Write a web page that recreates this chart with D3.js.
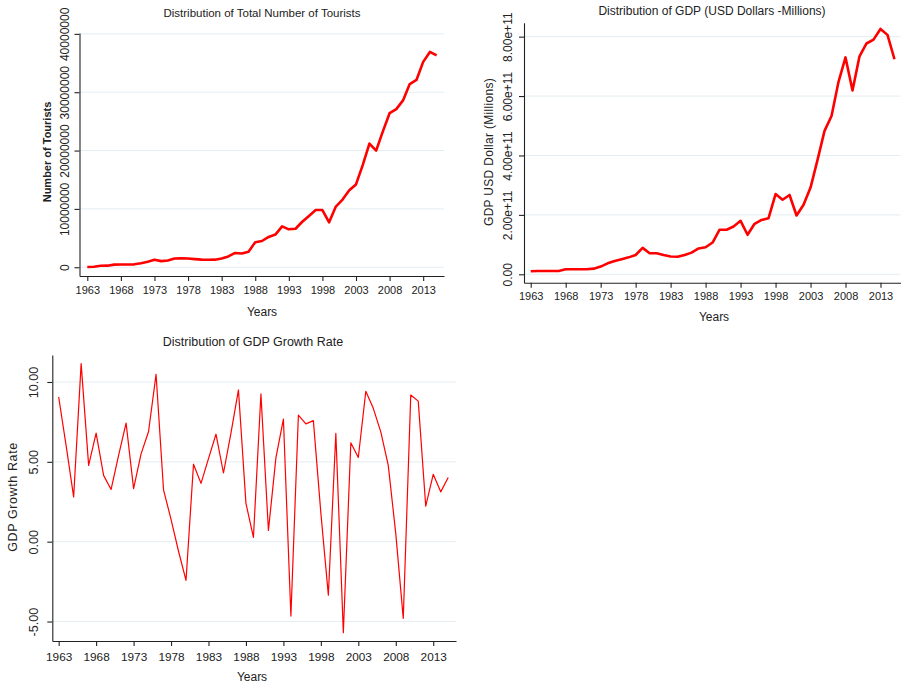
<!DOCTYPE html>
<html>
<head>
<meta charset="utf-8">
<script src="https://cdn.jsdelivr.net/npm/d3@7"></script>
<style>
  html, body { margin: 0; padding: 0; background: #fff; }
  svg { display: block; font-family: "Liberation Sans", Arial, sans-serif; }
  .grid line { stroke: #e4edf1; stroke-width: 1; }
  .axis path, .axis line { stroke: #222; stroke-width: 1.1; }
  .axis text { fill: #222; }
</style>
</head>
<body>
<svg id="chart" width="902" height="685"></svg>
<script>
// Years covered by every series
const years = d3.range(1963, 2016);
const xTickYears = [1963, 1968, 1973, 1978, 1983, 1988, 1993, 1998, 2003, 2008, 2013];

// Total number of tourists per year
const tourists = [
  50000, 80000, 250000, 270000, 450000, 470000, 480000, 500000, 700000, 950000,
  1300000, 1050000, 1150000, 1500000, 1520000, 1500000, 1400000, 1300000, 1280000, 1300000,
  1500000, 1850000, 2450000, 2350000, 2650000, 4300000, 4500000, 5200000, 5600000, 7000000,
  6500000, 6600000, 7800000, 8800000, 9800000, 9800000, 7700000, 10400000, 11600000, 13200000,
  14200000, 17500000, 21200000, 20000000, 23300000, 26400000, 27100000, 28600000, 31400000, 32100000,
  35200000, 36900000, 36300000
];
const touristTicks = [0, 10000000, 20000000, 30000000, 40000000];

// GDP in current US dollars
const gdp = [
  1.0e10, 1.1e10, 1.1e10, 1.1e10, 1.1e10, 1.7e10, 1.7e10, 1.7e10, 1.7e10, 1.9e10,
  2.6e10, 3.7e10, 4.5e10, 5.1e10, 5.7e10, 6.5e10, 8.9e10, 7.1e10, 7.1e10, 6.5e10,
  6.0e10, 5.9e10, 6.5e10, 7.3e10, 8.7e10, 9.1e10, 1.07e11, 1.50e11, 1.50e11, 1.61e11,
  1.80e11, 1.33e11, 1.70e11, 1.83e11, 1.89e11, 2.70e11, 2.51e11, 2.67e11, 1.98e11, 2.34e11,
  2.92e11, 3.85e11, 4.83e11, 5.33e11, 6.48e11, 7.30e11, 6.19e11, 7.34e11, 7.77e11, 7.90e11,
  8.26e11, 8.06e11, 7.24e11
];
const gdpTicks = [0, 2e11, 4e11, 6e11, 8e11];

// Annual GDP growth rate (%)
const growth = [
  9.06, 6.0, 2.8, 11.15, 4.78, 6.8, 4.15, 3.27, 5.4, 7.43,
  3.32, 5.5, 6.9, 10.48, 3.25, 1.4, -0.6, -2.42, 4.85, 3.65,
  5.2, 6.73, 4.3, 6.8, 9.5, 2.4, 0.27, 9.25, 0.7, 5.25,
  7.68, -4.66, 7.92, 7.38, 7.58, 1.8, -3.35, 6.78, -5.7, 6.19,
  5.27, 9.42, 8.35, 6.88, 4.78, 0.5, -4.8, 9.18, 8.8, 2.22,
  4.22, 3.12, 4.02
];
const growthTicks = [-5, 0, 5, 10];

const svg = d3.select("#chart");

function drawPanel(p) {
  const x = d3.scaleLinear().domain(p.xDomain).range([p.left, p.right]);
  const y = d3.scaleLinear().domain(p.yDomain).range([p.bottom, p.top]);
  const g = svg.append("g");

  // horizontal gridlines at each y tick
  g.append("g").attr("class", "grid")
    .selectAll("line").data(p.yTicks).join("line")
    .attr("x1", p.left).attr("x2", p.right)
    .attr("y1", d => y(d)).attr("y2", d => y(d));

  // series line
  g.append("path")
    .datum(years.map((yr, i) => [yr, p.values[i]]))
    .attr("fill", "none")
    .attr("stroke", "#ff0000")
    .attr("stroke-width", p.lineWidth)
    .attr("stroke-linejoin", "round")
    .attr("d", d3.line().x(d => x(d[0])).y(d => y(d[1])));

  // x axis
  const xa = g.append("g").attr("class", "axis")
    .attr("transform", `translate(0,${p.bottom})`)
    .call(d3.axisBottom(x).tickValues(xTickYears).tickFormat(d3.format("d"))
      .tickSizeInner(5).tickSizeOuter(0).tickPadding(p.xPad));
  xa.selectAll("text").attr("font-size", p.xTickSize);

  // y axis with rotated tick labels
  const ya = g.append("g").attr("class", "axis")
    .attr("transform", `translate(${p.left},0)`)
    .call(d3.axisLeft(y).tickValues(p.yTicks).tickFormat(p.yFormat)
      .tickSizeInner(5).tickSizeOuter(0));
  ya.selectAll("text")
    .attr("x", null).attr("dy", null)
    .attr("text-anchor", "middle")
    .attr("dominant-baseline", "central")
    .attr("font-size", p.yTickSize)
    .attr("transform", `translate(${-p.yLabelOff},0) rotate(-90)`);

  // title
  g.append("text")
    .attr("x", p.titleX).attr("y", p.titleY)
    .attr("text-anchor", "middle")
    .attr("font-size", p.titleSize)
    .attr("fill", "#222")
    .text(p.title);

  // x axis title
  g.append("text")
    .attr("x", p.xTitleX).attr("y", p.xTitleY)
    .attr("text-anchor", "middle")
    .attr("font-size", 12)
    .attr("fill", "#222")
    .text("Years");

  // y axis title
  g.append("text")
    .attr("transform", `translate(${p.yTitleX},${p.yTitleY}) rotate(-90)`)
    .attr("text-anchor", "middle")
    .attr("dominant-baseline", "central")
    .attr("font-size", p.yTitleSize)
    .attr("font-weight", p.yTitleWeight)
    .attr("letter-spacing", p.yTitleSpacing)
    .attr("fill", "#222")
    .text(p.yTitle);
}

drawPanel({
  values: tourists,
  xDomain: [1961.84, 2016.1], yDomain: [-1500000, 40150000],
  left: 79.5, right: 444, top: 33, bottom: 276,
  yTicks: touristTicks, yFormat: d3.format("d"),
  lineWidth: 2.6, xPad: 5, yLabelOff: 15, xTickSize: 11, yTickSize: 12,
  title: "Distribution of Total Number of Tourists", titleX: 262, titleY: 17, titleSize: 11.5,
  xTitleX: 262, xTitleY: 316,
  yTitle: "Number of Tourists", yTitleX: 47, yTitleY: 152,
  yTitleSize: 11, yTitleWeight: "bold", yTitleSpacing: 0
});

drawPanel({
  values: gdp,
  xDomain: [1962.04, 2015.86], yDomain: [-0.283e11, 8.47e11],
  left: 524, right: 900.5, top: 22.7, bottom: 282.7,
  yTicks: gdpTicks, yFormat: d => d === 0 ? "0.00" : d.toExponential(2),
  lineWidth: 2.6, xPad: 5, yLabelOff: 16, xTickSize: 11, yTickSize: 12,
  title: "Distribution of GDP (USD Dollars -Millions)", titleX: 712, titleY: 15, titleSize: 12,
  xTitleX: 714, xTitleY: 321,
  yTitle: "GDP USD Dollar (Millions)", yTitleX: 489, yTitleY: 152,
  yTitleSize: 12, yTitleWeight: "normal", yTitleSpacing: 0.3
});

drawPanel({
  values: growth,
  xDomain: [1962.15, 2016.04], yDomain: [-6.22, 11.69],
  left: 52.3, right: 456, top: 355, bottom: 641,
  yTicks: growthTicks, yFormat: d => d.toFixed(2),
  lineWidth: 1.2, xPad: 7, yLabelOff: 18, xTickSize: 11.8, yTickSize: 12.6,
  title: "Distribution of GDP Growth Rate", titleX: 253, titleY: 346, titleSize: 12.5,
  xTitleX: 252, xTitleY: 681,
  yTitle: "GDP Growth Rate", yTitleX: 13, yTitleY: 497,
  yTitleSize: 12.5, yTitleWeight: "normal", yTitleSpacing: 0.6
});
</script>
</body>
</html>
